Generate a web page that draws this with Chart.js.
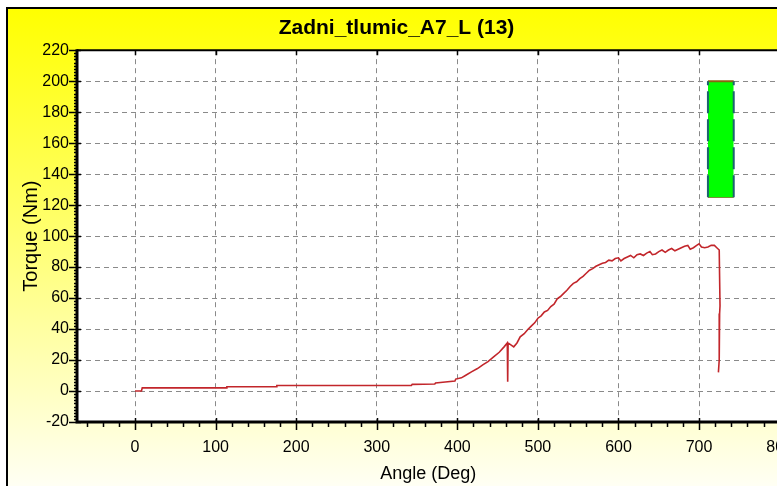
<!DOCTYPE html>
<html>
<head>
<meta charset="utf-8">
<script src="https://cdn.jsdelivr.net/npm/chart.js@4/dist/chart.umd.min.js"></script>
<style>
  html, body { margin: 0; padding: 0; overflow: hidden; background: #fff; }
  #wrap { width: 793px; height: 486px; }
</style>
</head>
<body>
<div id="wrap"><canvas id="c" width="793" height="486"></canvas></div>
<script>
// ---- data ----
const chartTitle = 'Zadni_tlumic_A7_L (13)';
const xAxisTitle = 'Angle (Deg)';
const yAxisTitle = 'Torque (Nm)';

const angleDeg = [0, 8, 9, 113, 114, 175, 176, 343, 344, 372, 373, 385, 397, 398, 405, 410, 418, 425, 432, 438, 445, 452, 458, 462, 462.5, 463, 466, 470, 474, 478, 483, 488, 492, 496, 500, 504, 508, 512, 516, 520, 524, 528, 532, 536, 540, 544, 548, 552, 556, 560, 564, 568, 572, 576, 580, 584, 588, 592, 596, 600, 603, 607, 611, 615, 619, 623, 627, 631, 635, 639, 642, 646, 650, 654, 658, 662, 666, 670, 674, 678, 682, 686, 689, 693, 697, 700, 703, 707, 711, 715, 719, 722, 725, 726, 725.5, 725, 724];
const torqueNm = [0, 0, 2, 2, 2.8, 2.8, 3.6, 3.6, 4.3, 4.5, 5.2, 5.8, 6.5, 7.7, 8.5, 10, 12.5, 14.5, 17, 19, 22, 25, 28.5, 31, 6, 31, 30, 28.5, 31, 35, 37, 40, 42, 44, 47, 48.5, 51, 52, 54.5, 56, 59.5, 61, 63, 65, 67.5, 69.5, 70.5, 72.5, 74, 76, 78, 79, 80.5, 81.5, 82.5, 83, 84.5, 84, 85.5, 86, 84, 85.5, 86.5, 87.5, 86, 88, 88.5, 87.5, 89, 90, 88, 88.5, 90, 91, 89.5, 91, 92, 90.5, 91.5, 92.5, 93.5, 94, 91.5, 92.5, 94, 95, 93, 92.5, 93, 94, 94, 92.5, 91, 55, 50, 20, 12];

// limit box (green window)
const boxAngle = [711, 743];
const boxTorqueHigh = [200, 200];
const boxTorqueLow = [125, 125];

// axes
const xMin = -72, xMax = 800;
const yMin = -20, yMax = 220;
const xTickValues = [0, 100, 200, 300, 400, 500, 600, 700, 800];
const yTickValues = [-20, 0, 20, 40, 60, 80, 100, 120, 140, 160, 180, 200, 220];
const xMinorStep = 20;
const yMinorStep = 2;

// ---- build datasets ----
const curvePts = angleDeg.map((a, i) => ({ x: a, y: torqueNm[i] }));
const boxTopPts = boxAngle.map((a, i) => ({ x: a, y: boxTorqueHigh[i] }));
const boxBotPts = boxAngle.map((a, i) => ({ x: a, y: boxTorqueLow[i] }));
const boxLeftPts = [{ x: boxAngle[0], y: boxTorqueLow[0] }, { x: boxAngle[0], y: boxTorqueHigh[0] }];
const boxRightPts = [{ x: boxAngle[1], y: boxTorqueLow[1] }, { x: boxAngle[1], y: boxTorqueHigh[1] }];

const FONT = "'Liberation Sans', Arial, sans-serif";

const frame = {
  id: 'frame',
  beforeDraw(chart) {
    const ctx = chart.ctx, W = chart.width, H = chart.height, ca = chart.chartArea;
    ctx.save();
    ctx.fillStyle = '#ffffff';
    ctx.fillRect(0, 0, W, H);
    const g = ctx.createLinearGradient(0, 8, 0, H);
    g.addColorStop(0, '#ffff00');
    g.addColorStop(0.45, '#ffff6a');
    g.addColorStop(1, '#fffff4');
    ctx.fillStyle = g;
    ctx.fillRect(7, 8, W - 7, H - 8);
    ctx.strokeStyle = '#000';
    ctx.lineWidth = 2;
    ctx.beginPath();
    ctx.moveTo(7, H); ctx.lineTo(7, 8); ctx.lineTo(W, 8);
    ctx.stroke();
    ctx.fillStyle = '#ffffff';
    ctx.fillRect(ca.left, ca.top, ca.right - ca.left + 20, ca.bottom - ca.top);
    ctx.restore();
  },
  afterDraw(chart) {
    const ctx = chart.ctx, ca = chart.chartArea;
    const xs = chart.scales.x, ys = chart.scales.y;
    ctx.save();
    ctx.strokeStyle = '#000';
    ctx.lineWidth = 3;
    ctx.beginPath();
    ctx.moveTo(ca.left, ca.top - 1); ctx.lineTo(ca.left, ca.bottom);
    ctx.lineTo(ca.right + 20, ca.bottom);
    ctx.stroke();
    ctx.lineWidth = 2;
    ctx.beginPath();
    ctx.moveTo(ca.left, ca.top); ctx.lineTo(ca.right + 20, ca.top);
    ctx.stroke();
    ctx.lineWidth = 1.5;
    ctx.beginPath();
    for (let v = Math.ceil(xMin / xMinorStep) * xMinorStep; v <= xMax; v += xMinorStep) {
      const px = Math.round(xs.getPixelForValue(v)) + 0.5;
      const major = xTickValues.includes(v);
      ctx.moveTo(px, ca.bottom);
      ctx.lineTo(px, ca.bottom + (major ? 8 : 5));
      if (major) {
        ctx.moveTo(px, ca.bottom); ctx.lineTo(px, ca.bottom - 4);
        ctx.moveTo(px, ca.top); ctx.lineTo(px, ca.top + 5);
      }
    }
    for (let v = yMin; v <= yMax; v += yMinorStep) {
      const py = Math.round(ys.getPixelForValue(v)) + 0.5;
      const major = yTickValues.includes(v);
      ctx.moveTo(ca.left, py);
      ctx.lineTo(ca.left - (major ? 8 : 3), py);
      if (major) { ctx.moveTo(ca.left, py); ctx.lineTo(ca.left + 4, py); }
    }
    ctx.stroke();
    ctx.restore();
  }
};

new Chart(document.getElementById('c'), {
  type: 'line',
  data: {
    datasets: [
      { label: 'Torque', data: curvePts, borderColor: '#c2262b', borderWidth: 1.6, pointRadius: 0, tension: 0, fill: false, order: 0 },
      { label: 'boxTop', data: boxTopPts, borderColor: '#8a6410', borderWidth: 2, pointRadius: 0, fill: '+1', backgroundColor: '#00ff00', order: 2 },
      { label: 'boxBottom', data: boxBotPts, borderColor: '#9a5030', borderWidth: 1, pointRadius: 0, fill: false, order: 2 },
      { label: 'boxLeft', data: boxLeftPts, borderColor: '#1d6270', borderWidth: 2, borderDash: [22, 6], pointRadius: 0, fill: false, order: 1 },
      { label: 'boxRight', data: boxRightPts, borderColor: '#1d6270', borderWidth: 2, borderDash: [22, 6], pointRadius: 0, fill: false, order: 1 }
    ]
  },
  options: {
    responsive: false,
    animation: false,
    events: [],
    layout: { padding: { left: 2, right: 2, top: 0, bottom: 0 } },
    plugins: {
      legend: { display: false },
      tooltip: { enabled: false },
      title: {
        display: true,
        text: chartTitle,
        color: '#000',
        font: { family: FONT, size: 21, weight: 'bold' },
        padding: { top: 16, bottom: 9 }
      }
    },
    scales: {
      x: {
        type: 'linear',
        position: 'bottom',
        min: xMin, max: xMax,
        afterBuildTicks: s => { s.ticks = xTickValues.map(v => ({ value: v })); },
        afterFit: s => { s.height = 64; },
        grid: { color: '#8a8a8a', lineWidth: 1, drawTicks: true, tickLength: 16, tickColor: 'rgba(0,0,0,0)' },
        border: { display: false, dash: [5, 4] },
        ticks: { color: '#000', font: { family: FONT, size: 16 }, padding: 0, maxRotation: 0, autoSkip: false },
        title: { display: true, text: xAxisTitle, color: '#000', font: { family: FONT, size: 18 }, padding: { top: 0, bottom: 1 } }
      },
      y: {
        type: 'linear',
        min: yMin, max: yMax,
        afterBuildTicks: s => { s.ticks = yTickValues.map(v => ({ value: v })); },
        afterFit: s => { s.width = 75; },
        grid: { color: '#8a8a8a', lineWidth: 1, drawTicks: false },
        border: { display: false, dash: [5, 4] },
        ticks: { color: '#000', font: { family: FONT, size: 16 }, padding: 8, autoSkip: false },
        title: { display: true, text: yAxisTitle, color: '#000', font: { family: FONT, size: 20 }, padding: { top: 17, bottom: 0 } }
      }
    }
  },
  plugins: [frame]
});
</script>
</body>
</html>
